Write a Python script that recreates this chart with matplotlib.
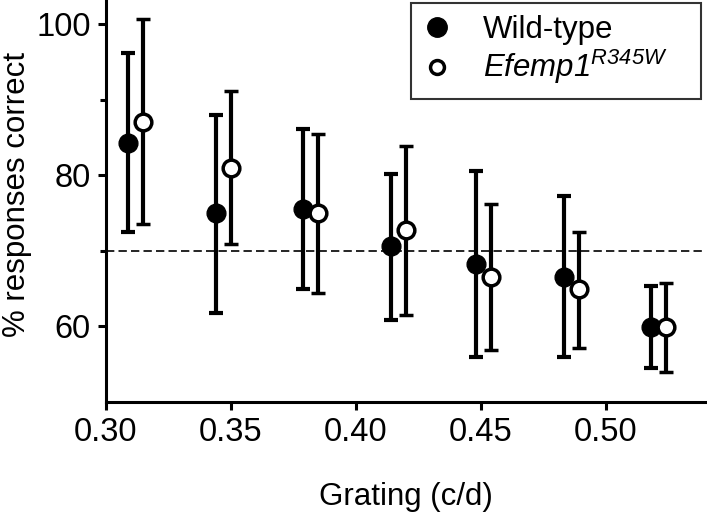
import matplotlib
matplotlib.use("Agg")
import matplotlib.pyplot as plt
from matplotlib.lines import Line2D
import numpy as np

plt.rcParams['font.family'] = ['Liberation Sans', 'DejaVu Sans']
plt.rcParams['mathtext.fontset'] = 'custom'
plt.rcParams['mathtext.rm'] = 'Liberation Sans:italic'
plt.rcParams['mathtext.it'] = 'Liberation Sans:italic'

# data
grating_wt = [0.309, 0.344, 0.379, 0.414, 0.448, 0.483, 0.518]
grating_mut = [0.315, 0.350, 0.385, 0.420, 0.454, 0.489, 0.524]

wt_mean = [84.3, 75.0, 75.5, 70.6, 68.2, 66.6, 59.9]
wt_low = [72.5, 61.8, 65.0, 60.9, 56.0, 55.9, 54.5]
wt_high = [96.2, 88.0, 86.1, 80.1, 80.5, 77.2, 65.4]

mut_mean = [87.1, 81.0, 75.0, 72.8, 66.5, 64.9, 59.9]
mut_low = [73.6, 70.9, 64.4, 61.5, 56.9, 57.2, 54.0]
mut_high = [100.7, 91.2, 85.5, 83.8, 76.2, 72.5, 65.7]

threshold = 70
labels = ['Wild-type', r'$\mathit{Efemp1}^{\mathit{R345W}}$']

fig = plt.figure(figsize=(7.07, 5.15), dpi=100)
ax = fig.add_axes([0.1499, 0.2194, 0.8487, 0.778])

wt_err = [np.array(wt_mean) - np.array(wt_low), np.array(wt_high) - np.array(wt_mean)]
mut_err = [np.array(mut_mean) - np.array(mut_low), np.array(mut_high) - np.array(mut_mean)]

ax.axhline(threshold, color='black', lw=1.2, ls=(0, (5, 2.5)), zorder=1)

ax.errorbar(grating_wt, wt_mean, yerr=wt_err, fmt='o', color='black',
            mfc='black', mec='black', ms=13.5, elinewidth=3, capsize=5, capthick=3,
            zorder=3)
ax.errorbar(grating_mut, mut_mean, yerr=mut_err, fmt='o', color='black',
            mfc='white', mec='black', mew=2.5, ms=12, elinewidth=3, capsize=5, capthick=3,
            zorder=3)

ax.set_xlim(0.30, 0.54)
ax.set_ylim(50, 103)
ax.set_xticks([0.30, 0.35, 0.40, 0.45, 0.50])
ax.set_xticklabels(['0.30', '0.35', '0.40', '0.45', '0.50'])
ax.set_yticks([60, 80, 100])
ax.set_yticks([70, 90], minor=True)

for s in ['top', 'right']:
    ax.spines[s].set_visible(False)
for s in ['left', 'bottom']:
    ax.spines[s].set_linewidth(2.2)

ax.tick_params(axis='both', which='major', labelsize=23.5, width=2.2, length=6, pad=5)
ax.tick_params(axis='y', which='minor', width=2.2, length=4)

ax.set_xlabel('Grating (c/d)', fontsize=22.5, labelpad=24)
ax.set_ylabel('% responses correct', fontsize=22.5, labelpad=3)
ax.yaxis.label.set_y(0.517)

handles = [Line2D([], [], ls='none', marker='o', ms=14, mfc='black', mec='black'),
           Line2D([], [], ls='none', marker='o', ms=10, mfc='white', mec='black', mew=2.5)]
leg = ax.legend(handles, labels, loc='upper right', mode='expand', fontsize=22.5,
                frameon=True, fancybox=False, edgecolor='black',
                handletextpad=1.0, borderpad=0.4, handlelength=0.9,
                labelspacing=0.1, borderaxespad=0,
                bbox_to_anchor=(0.508, 0.5, 0.484, 0.497))
leg.get_frame().set_linewidth(1.5)

fig.savefig('out.png', dpi=100)
